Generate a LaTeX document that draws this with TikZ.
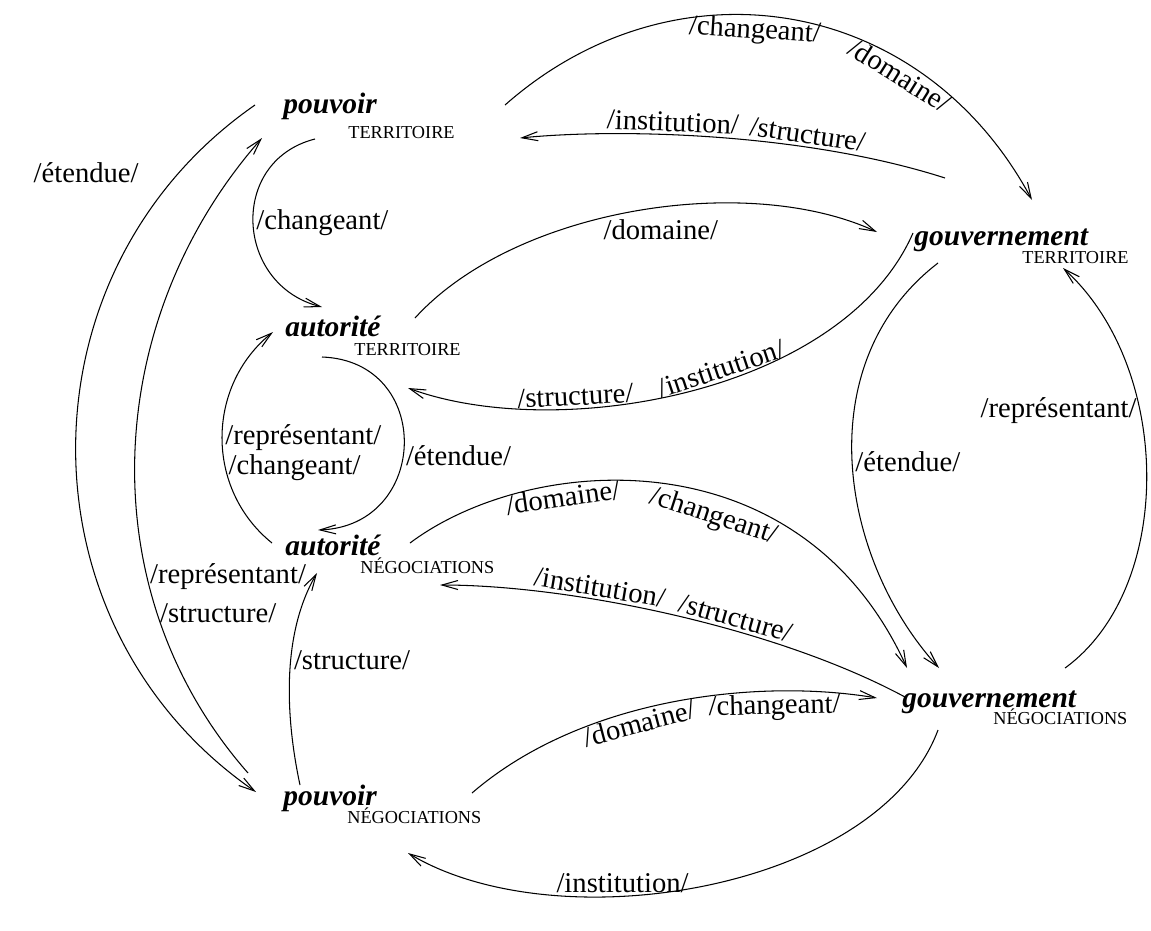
\documentclass[tikz,border=0pt]{standalone}
\usepackage{fontspec}
\setmainfont{Liberation Serif}
\usetikzlibrary{arrows.meta}

\tikzset{
  concept/.style={font=\fontsize{16.8}{20}\selectfont\bfseries\itshape, inner sep=0pt, anchor=base west},
  realm/.style={font=\fontsize{10.4}{12}\selectfont, inner sep=0pt, anchor=base west},
  link/.style={-{Straight Barb[length=3.2mm, width=1.8mm]}, line width=0.6pt},
  lbl/.style={font=\fontsize{16.3}{19}\selectfont, inner sep=1.5pt},
}

\begin{document}
\begin{tikzpicture}[x=0.02cm, y=-0.02cm]
\useasboundingbox (0,0) rectangle (1151,930);

% The six concepts, each with its domain
\node[concept] (pT) at (283,113) {pouvoir};
\node[realm] (pTd) at (348,138) {TERRITOIRE};
\node[concept] (gT) at (914,245) {gouvernement};
\node[realm] (gTd) at (1022,263) {TERRITOIRE};
\node[concept] (aT) at (285,336) {autorité};
\node[realm] (aTd) at (354,355) {TERRITOIRE};
\node[concept] (aN) at (285,555) {autorité};
\node[realm] (aNd) at (360,573) {NÉGOCIATIONS};
\node[concept] (gN) at (902,707) {gouvernement};
\node[realm] (gNd) at (993,724) {NÉGOCIATIONS};
\node[concept] (pN) at (283,805) {pouvoir};
\node[realm] (pNd) at (347,823) {NÉGOCIATIONS};

% Top arcs between pouvoir and gouvernement (territoire)
\draw[link] ([shift={(222,-8)}]pT.base west) .. controls +(170,-150) and +(-110,-205) .. ([shift={(118,-45)}]gT.base west)
  node[lbl, sloped, below, pos=.44] (l1a) {/changeant/}
  node[lbl, sloped, below, pos=.71] (l1b) {/domaine/};
\draw[link] ([shift={(31,-67)}]gT.base west) .. controls +(-140,-45) and +(100,-10) .. ([shift={(237,25)}]pT.base west)
  node[lbl, sloped, above, pos=.31] (l2a) {/structure/}
  node[lbl, sloped, above, pos=.6] (l2b) {/institution/};

% pouvoir -> autorite (territoire)
\draw[link] ([shift={(32,26)}]pT.base west) .. controls +(-87,22) and +(-87,-22) .. ([shift={(37,-29)}]aT.base west)
  node[lbl, right, pos=.5] (l3) {/changeant/};

% autorite <-> gouvernement (territoire)
\draw[link] ([shift={(130,-18)}]aT.base west) .. controls +(100,-110) and +(-130,-60) .. ([shift={(-37,-13)}]gT.base west)
  node[lbl, below=5pt, pos=.55] (l4) {/domaine/};
\draw[link] ([shift={(-1,-12)}]gT.base west) .. controls +(-70,160) and +(150,55) .. ([shift={(123,52)}]aT.base west)
  node[lbl, sloped, above, pos=.44] (l5a) {/institution/}
  node[lbl, sloped, above, pos=.69] (l5b) {/structure/};

% Loop between the two autorite
\draw[link] ([shift={(37,21)}]aT.base west) .. controls +(112,4) and +(112,-4) .. ([shift={(33,-25)}]aN.base west)
  node[lbl, right, pos=.55] (l6) {/étendue/};
\draw[link] ([shift={(-13,-12)}]aN.base west) .. controls +(-67,-54) and +(-67,54) .. ([shift={(-12,-4)}]aT.base west)
  node[lbl, right, pos=.37] (l7a) {/changeant/}
  node[lbl, right, pos=.5] (l7b) {/représentant/};

% Big left arcs between the two pouvoir
\draw[link] ([shift={(-28,-8)}]pT.base west) .. controls +(-239,166) and +(-240,-166) .. ([shift={(-27,-13)}]pN.base west)
  node[lbl, left, xshift=-0.75cm, pos=.12] (l8) {/étendue/};
\draw[link] ([shift={(-35,-32)}]pN.base west) .. controls +(-160,-182) and +(-160,182) .. ([shift={(-21,25)}]pT.base west)
  node[lbl, right, pos=.265] (l9a) {/structure/}
  node[lbl, right, pos=.32] (l9b) {/représentant/};

% pouvoir -> autorite (negociations)
\draw[link] ([shift={(17,-20)}]pN.base west) .. controls +(-15,-70) and +(-35,60) .. ([shift={(32,18)}]aN.base west)
  node[lbl, right, pos=.57] (l10) {/structure/};

% pouvoir <-> gouvernement (negociations)
\draw[link] ([shift={(189,-12)}]pN.base west) .. controls +(110,-95) and +(-120,-20) .. ([shift={(-25,-9)}]gN.base west)
  node[lbl, sloped, below, pos=.42] (l11a) {/domaine/}
  node[lbl, sloped, below, pos=.74] (l11b) {/changeant/};
\draw[link] ([shift={(36,23)}]gN.base west) .. controls +(-60,160) and +(150,90) .. ([shift={(125,48)}]pN.base west)
  node[lbl, above, pos=.63] (l12) {/institution/};

% Right loop between the two gouvernement
\draw[link] ([shift={(163,-39)}]gN.base west) .. controls +(110,-80) and +(110,100) .. ([shift={(149,23)}]gT.base west)
  node[lbl, left, pos=.64] (l13) {/représentant/};
\draw[link] ([shift={(24,18)}]gT.base west) .. controls +(-130,100) and +(-100,-110) .. ([shift={(37,-39)}]gN.base west)
  node[lbl, right, pos=.5] (l14) {/étendue/};

% autorite <-> gouvernement (negociations)
\draw[link] ([shift={(125,-12)}]aN.base west) .. controls +(120,-90) and +(-107,-235) .. ([shift={(5,-39)}]gN.base west)
  node[lbl, sloped, below, pos=.32] (l15a) {/domaine/}
  node[lbl, sloped, below=3pt, pos=.6] (l15b) {/changeant/};
\draw[link] ([shift={(3,-10)}]gN.base west) .. controls +(-130,-70) and +(130,0) .. ([shift={(155,30)}]aN.base west)
  node[lbl, sloped, above, pos=.38] (l16a) {/structure/}
  node[lbl, sloped, above, pos=.65] (l16b) {/institution/};

\end{tikzpicture}
\end{document}
